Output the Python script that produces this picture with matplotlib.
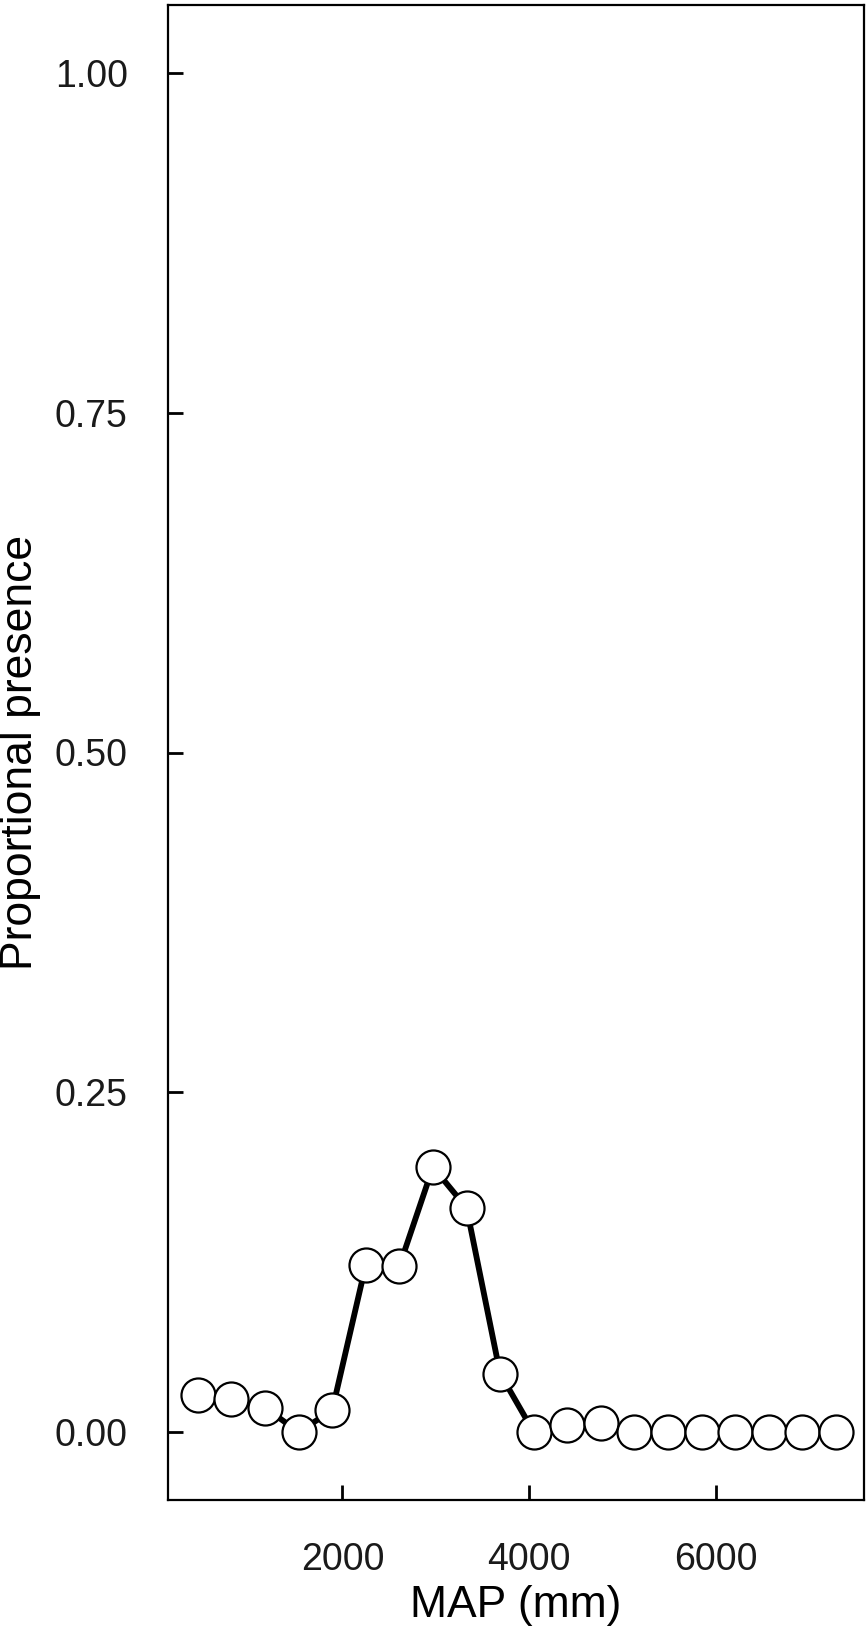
import matplotlib
import matplotlib.pyplot as plt

matplotlib.use("Agg")

# Mean annual precipitation bins (mm) and proportional presence.
map_mm = [450, 810, 1170, 1530, 1890, 2250, 2610, 2970, 3330, 3690,
          4050, 4410, 4770, 5130, 5490, 5850, 6210, 6570, 6930, 7290]
presence = [0.027, 0.024, 0.018, 0.0, 0.016, 0.123, 0.122, 0.195, 0.165, 0.043,
            0.0, 0.005, 0.007, 0.0, 0.0, 0.0, 0.0, 0.0, 0.0, 0.0]
x_ticks = [2000, 4000, 6000]
y_ticks = [0.0, 0.25, 0.5, 0.75, 1.0]

plt.rcParams["font.family"] = ["Liberation Sans", "DejaVu Sans"]
plt.rcParams["text.color"] = "#1a1a1a"

fig = plt.figure(figsize=(8.66, 16.27), dpi=100)
ax = fig.add_axes([168 / 866, 127 / 1627, 696 / 866, 1495 / 1627])

ax.plot(map_mm, presence, color="black", linewidth=4.2, zorder=2)
ax.plot(map_mm, presence, linestyle="none", marker="o", markersize=24.5,
        markerfacecolor="white", markeredgecolor="black",
        markeredgewidth=1.6, zorder=3)

ax.set_xlim(130, 7590)
ax.set_ylim(-0.05, 1.05)
ax.set_xticks(x_ticks)
ax.set_yticks(y_ticks)
ax.set_yticklabels([f"{v:.2f}" for v in y_ticks])

ax.tick_params(axis="x", direction="in", length=11, width=2,
               labelsize=27, pad=30, top=False, labelcolor="#1a1a1a")
ax.tick_params(axis="y", direction="in", length=11, width=2,
               labelsize=27, pad=29, right=False, labelcolor="#1a1a1a")

for spine in ax.spines.values():
    spine.set_linewidth(1.6)

ax.set_xlabel("MAP (mm)", fontsize=32, labelpad=5)
ax.set_ylabel("Proportional presence", fontsize=32, labelpad=10)

fig.savefig("out.png", dpi=100)
